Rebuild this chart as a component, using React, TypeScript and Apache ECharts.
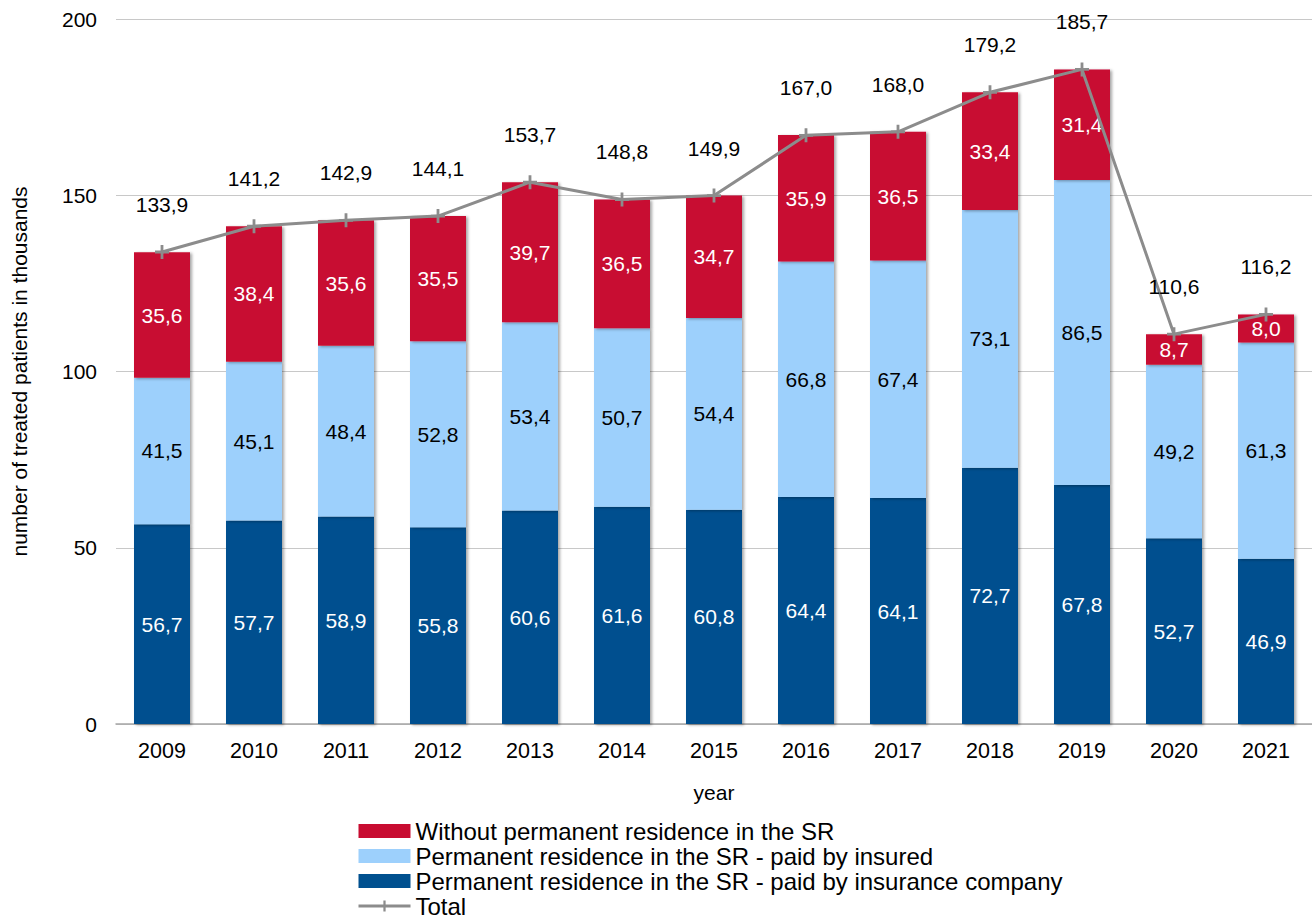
import React, { useEffect, useRef } from "react";
import * as echarts from "echarts";

const years = ["2009", "2010", "2011", "2012", "2013", "2014", "2015", "2016", "2017", "2018", "2019", "2020", "2021"];
const insuranceCompany = [56.7, 57.7, 58.9, 55.8, 60.6, 61.6, 60.8, 64.4, 64.1, 72.7, 67.8, 52.7, 46.9];
const paidByInsured = [41.5, 45.1, 48.4, 52.8, 53.4, 50.7, 54.4, 66.8, 67.4, 73.1, 86.5, 49.2, 61.3];
const withoutResidence = [35.6, 38.4, 35.6, 35.5, 39.7, 36.5, 34.7, 35.9, 36.5, 33.4, 31.4, 8.7, 8.0];
const total = [133.9, 141.2, 142.9, 144.1, 153.7, 148.8, 149.9, 167.0, 168.0, 179.2, 185.7, 110.6, 116.2];

const NAME_RED = "Without permanent residence in the SR";
const NAME_LIGHT = "Permanent residence in the SR - paid by insured";
const NAME_DARK = "Permanent residence in the SR - paid by insurance company";
const NAME_TOTAL = "Total";

const fmt = (v: number) => v.toFixed(1).replace(".", ",");
const FONT = "Liberation Sans, Arial, sans-serif";
const plusPath = "path://M4,0H6V4H10V6H6V10H4V6H0V4H4Z";

export default function App() {
  const ref = useRef<HTMLDivElement>(null);
  useEffect(() => {
    if (!ref.current) return;
    const chart = echarts.init(ref.current, undefined, { renderer: "svg" });
    const shadow = {
      shadowColor: "rgba(0,0,0,0.35)",
      shadowBlur: 3,
      shadowOffsetX: 2,
      shadowOffsetY: 1,
    };
    const barLabel = (color: string) => ({
      show: true,
      position: "inside" as const,
      color,
      fontSize: 21,
      fontFamily: FONT,
      formatter: (p: any) => fmt(p.value),
    });
    chart.setOption({
      animation: false,
      textStyle: { fontFamily: FONT },
      grid: { left: 116, right: 0, top: 19, bottom: 194 },
      legend: {
        orient: "vertical",
        left: 357,
        top: 819,
        height: 110,
        padding: 0,
        itemWidth: 52,
        itemHeight: 14,
        itemGap: 1,
        textStyle: { fontSize: 24, color: "#000", fontFamily: FONT },
        data: [
          { name: NAME_RED, icon: "rect" },
          { name: NAME_LIGHT, icon: "rect" },
          { name: NAME_DARK, icon: "rect" },
          { name: NAME_TOTAL, lineStyle: { width: 3, color: "#8c8c8c" } },
        ],
      },
      xAxis: {
        type: "category",
        data: years,
        name: "year",
        nameLocation: "middle",
        nameGap: 58,
        nameTextStyle: { fontSize: 21, color: "#000" },
        axisTick: { show: false },
        axisLine: { lineStyle: { color: "#a6a6a6", width: 1.5 } },
        axisLabel: { fontSize: 21.5, color: "#000", margin: 16 },
      },
      yAxis: {
        type: "value",
        min: 0,
        max: 200,
        interval: 50,
        name: "number of treated patients in thousands",
        nameLocation: "middle",
        nameGap: 86,
        nameTextStyle: { fontSize: 21, color: "#000" },
        axisLine: { show: false },
        axisTick: { show: false },
        axisLabel: { fontSize: 21, color: "#000", margin: 19 },
        splitLine: { lineStyle: { color: "#c8c8c8", width: 1 } },
      },
      series: [
        {
          name: NAME_DARK,
          type: "bar",
          stack: "s",
          barWidth: 56,
          data: insuranceCompany,
          itemStyle: { color: "#00508f", ...shadow },
          label: barLabel("#ffffff"),
        },
        {
          name: NAME_LIGHT,
          type: "bar",
          stack: "s",
          barWidth: 56,
          data: paidByInsured,
          itemStyle: { color: "#9dd0fc", ...shadow },
          label: barLabel("#000000"),
        },
        {
          name: NAME_RED,
          type: "bar",
          stack: "s",
          barWidth: 56,
          data: withoutResidence,
          itemStyle: { color: "#c80c31", ...shadow },
          label: barLabel("#ffffff"),
        },
        {
          name: NAME_TOTAL,
          type: "line",
          data: total,
          symbol: plusPath,
          symbolSize: 14,
          lineStyle: { color: "#8c8c8c", width: 3 },
          itemStyle: { color: "#8c8c8c" },
          label: {
            show: true,
            position: "top",
            distance: 30,
            color: "#000",
            fontSize: 21,
            formatter: (p: any) => fmt(p.value),
          },
          z: 5,
        },
      ],
    });
    return () => chart.dispose();
  }, []);
  return <div ref={ref} style={{ width: 1312, height: 918, position: "absolute", left: 0, top: 0 }} />;
}
